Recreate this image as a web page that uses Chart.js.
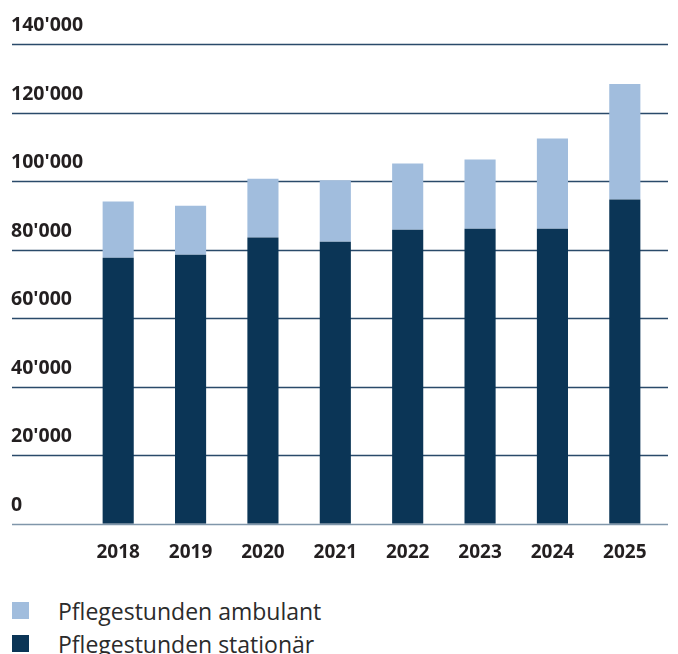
<!DOCTYPE html>
<html>
<head>
<meta charset="utf-8">
<script src="https://cdn.jsdelivr.net/npm/chart.js@4.4.1/dist/chart.umd.min.js"></script>
<style>
  html, body { margin: 0; padding: 0; background: #ffffff; }
  body { width: 678px; height: 654px; position: relative; overflow: hidden; font-family: "Open Sans", sans-serif; }
  #wrap { position: absolute; left: 0; top: 0; width: 678px; height: 585px; }
  #legend { position: absolute; left: 12px; top: 594px; }
  .li { display: flex; align-items: center; height: 33px; color: #2b2b2b; font-size: 23px; font-family: "Open Sans", sans-serif; }
  .sw { width: 17px; height: 17px; margin-right: 29px; }
</style>
</head>
<body>
<div id="wrap"><canvas id="c" width="678" height="585"></canvas></div>
<div id="legend"></div>
<script>
const categories = ['2018', '2019', '2020', '2021', '2022', '2023', '2024', '2025'];
const stationaer = [77600, 78500, 83500, 82300, 85800, 86100, 86100, 94600];
const ambulant   = [16400, 14300, 17200, 17900, 19300, 20200, 26300, 33700];
const yTicks = [0, 20000, 40000, 60000, 80000, 100000, 120000, 140000];
const seriesNames = ['Pflegestunden ambulant', 'Pflegestunden stationär'];
const colors = { ambulant: '#a1bddd', stationaer: '#0b3556' };

function fmt(v) {
  return String(v).replace(/\B(?=(\d{3})+(?!\d))/g, "'");
}

const gridPlugin = {
  id: 'gridLabels',
  beforeDatasetsDraw(chart) {
    const y = chart.scales.y;
    const ctx = chart.ctx;
    ctx.save();
    yTicks.forEach(v => {
      const py = Math.round(y.getPixelForValue(v)) + 0.5;
      ctx.beginPath();
      ctx.strokeStyle = v === 0 ? '#8096aa' : '#2a4a6a';
      ctx.lineWidth = 1.5;
      ctx.moveTo(12, py);
      ctx.lineTo(668, py);
      ctx.stroke();
      ctx.fillStyle = '#231f20';
      ctx.font = 'bold 19.5px "Open Sans", sans-serif';
      ctx.textAlign = 'left';
      ctx.textBaseline = 'alphabetic';
      ctx.fillText(fmt(v), 11, py - 14);
    });
    ctx.restore();
  }
};

const chart = new Chart(document.getElementById('c'), {
  type: 'bar',
  data: {
    labels: categories,
    datasets: [
      { label: seriesNames[1], data: stationaer, backgroundColor: colors.stationaer },
      { label: seriesNames[0], data: ambulant, backgroundColor: colors.ambulant }
    ]
  },
  options: {
    responsive: false,
    animation: false,
    devicePixelRatio: 1,
    layout: { padding: { left: 82, right: 17, top: 44, bottom: 4.5 } },
    plugins: { legend: { display: false }, tooltip: { enabled: false } },
    datasets: { bar: { barPercentage: 0.43, categoryPercentage: 1.0 } },
    scales: {
      x: {
        stacked: true,
        grid: { display: false, drawTicks: false },
        border: { display: false },
        ticks: { color: '#231f20', font: { family: '"Open Sans", sans-serif', size: 19, weight: 'bold' }, padding: 17, maxRotation: 0 }
      },
      y: {
        stacked: true,
        display: false,
        min: 0,
        max: 140000
      }
    }
  },
  plugins: [gridPlugin]
});

const legend = document.getElementById('legend');
[[seriesNames[0], colors.ambulant], [seriesNames[1], colors.stationaer]].forEach(([name, col]) => {
  const row = document.createElement('div');
  row.className = 'li';
  const sw = document.createElement('span');
  sw.className = 'sw';
  sw.style.background = col;
  const t = document.createElement('span');
  t.textContent = name;
  row.appendChild(sw);
  row.appendChild(t);
  legend.appendChild(row);
});
</script>
</body>
</html>
